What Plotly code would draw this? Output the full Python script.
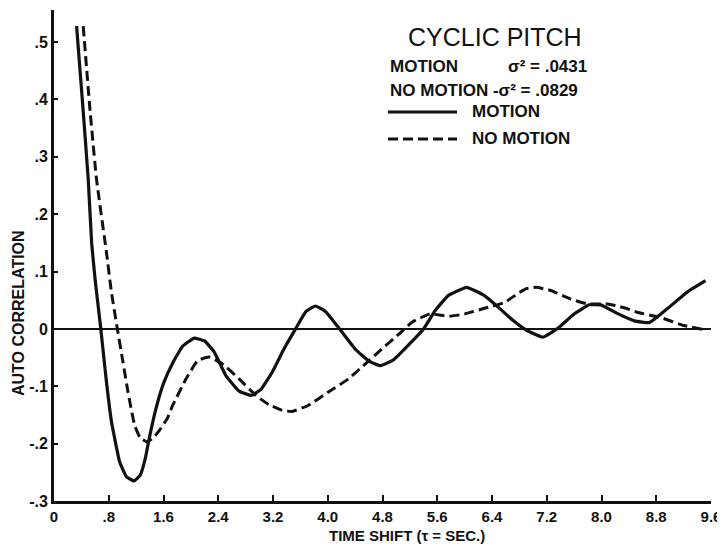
import plotly.graph_objects as go

# ---- data ----
motion_t = [0.33, 0.42, 0.50, 0.55, 0.60, 0.684, 0.767, 0.84, 0.96, 1.06, 1.17, 1.26, 1.33, 1.40,
            1.49, 1.60, 1.74, 1.88, 2.05, 2.20, 2.34, 2.51, 2.70, 2.88, 3.02, 3.19, 3.36, 3.53,
            3.68, 3.82, 3.97, 4.14, 4.40, 4.60, 4.77, 4.96, 5.18, 5.40, 5.57, 5.76, 6.03, 6.29,
            6.49, 6.71, 6.90, 7.14, 7.30, 7.41, 7.60, 7.82, 7.99, 8.23, 8.48, 8.70, 8.96, 9.25, 9.52]
motion_r = [0.528, 0.39, 0.261, 0.15, 0.087, 0.0, -0.093, -0.162, -0.232, -0.258, -0.265, -0.255,
            -0.228, -0.186, -0.139, -0.095, -0.058, -0.030, -0.016, -0.021, -0.040, -0.081, -0.108,
            -0.116, -0.106, -0.075, -0.035, 0.0, 0.030, 0.040, 0.030, 0.005, -0.035, -0.056, -0.064,
            -0.054, -0.028, 0.0, 0.032, 0.058, 0.0725, 0.058, 0.038, 0.0145, -0.002, -0.0145, -0.004,
            0.006, 0.026, 0.042, 0.042, 0.027, 0.014, 0.011, 0.035, 0.064, 0.084]

nomotion_t = [0.427, 0.52, 0.621, 0.767, 0.839, 0.926, 1.008, 1.081, 1.178, 1.26, 1.36, 1.45, 1.54,
              1.66, 1.735, 1.93, 2.10, 2.27, 2.46, 2.705, 2.95, 3.14, 3.335, 3.48, 3.72, 4.01, 4.305,
              4.55, 4.79, 5.03, 5.23, 5.49, 5.76, 6.00, 6.29, 6.585, 6.78, 6.90, 7.045, 7.26, 7.55,
              7.80, 8.09, 8.23, 8.38, 8.52, 8.86, 9.2, 9.49]
nomotion_r = [0.528, 0.39, 0.261, 0.133, 0.064, 0.0, -0.058, -0.11, -0.168, -0.19, -0.197, -0.19,
              -0.177, -0.155, -0.133, -0.087, -0.055, -0.049, -0.061, -0.087, -0.116, -0.132, -0.142,
              -0.144, -0.133, -0.11, -0.087, -0.061, -0.035, -0.010, 0.0116, 0.026, 0.022, 0.026,
              0.036, 0.046, 0.062, 0.070, 0.0725, 0.067, 0.052, 0.0435, 0.0435, 0.040, 0.035, 0.029,
              0.020, 0.006, -0.001]

x_ticks = [0, 0.8, 1.6, 2.4, 3.2, 4.0, 4.8, 5.6, 6.4, 7.2, 8.0, 8.8, 9.6]
x_ticktext = ["0", ".8", "1.6", "2.4", "3.2", "4.0", "4.8", "5.6", "6.4", "7.2", "8.0", "8.8", "9.6"]
y_ticks = [-0.3, -0.2, -0.1, 0, 0.1, 0.2, 0.3, 0.4, 0.5]
y_ticktext = ["-.3", "-.2", "-.1", "0", ".1", ".2", ".3", ".4", ".5"]

FONT = "Liberation Sans"
INK = "#111111"

fig = go.Figure()
fig.add_trace(go.Scatter(x=motion_t, y=motion_r, mode="lines", name="MOTION",
                         line=dict(color=INK, width=3.2, shape="spline", smoothing=0.35)))
fig.add_trace(go.Scatter(x=nomotion_t, y=nomotion_r, mode="lines", name="NO MOTION",
                         line=dict(color=INK, width=3, dash="10px,5px", shape="spline", smoothing=0.35)))

# the page body has an 8px margin, so the figure is offset by (8, 8) in the window
fig.update_layout(
    width=725, height=547,
    margin=dict(l=46, r=22, t=2, b=54, autoexpand=False),
    paper_bgcolor="white", plot_bgcolor="white",
    showlegend=False,
    font=dict(family=FONT, color=INK),
)
fig.update_xaxes(range=[0, 9.6], tickvals=x_ticks, ticktext=x_ticktext, automargin=False,
                 showgrid=False, zeroline=False, showline=True, linecolor=INK, linewidth=3,
                 ticks="inside", ticklen=6, tickwidth=2, tickcolor=INK,
                 tickfont=dict(family=FONT, size=15, weight="bold", color=INK))
fig.update_yaxes(range=[-0.3, 0.556], tickvals=y_ticks, ticktext=y_ticktext, automargin=False,
                 showgrid=False, zeroline=True, zerolinecolor=INK, zerolinewidth=2,
                 showline=True, linecolor=INK, linewidth=3,
                 ticks="inside", ticklen=4, tickwidth=2, tickcolor=INK,
                 tickfont=dict(family=FONT, size=16, weight="bold", color=INK))

def px2paper(px, py):
    # window pixel -> paper coords (plot area spans 54..711 x, 10..501 y in the window)
    return (px - 54) / 657.0, (501 - py) / 491.0

def note(text, px, py, size, anchor="left", weight="bold", angle=0):
    x, y = px2paper(px, py)
    fig.add_annotation(text=text, x=x, y=y, xref="paper", yref="paper", showarrow=False,
                       xanchor=anchor, yanchor="middle", textangle=angle,
                       font=dict(family=FONT, size=size, weight=weight, color=INK))

note("CYCLIC PITCH", 495, 37, 25, anchor="center", weight="normal")
note("MOTION", 388, 67, 17)
note("σ² = .0431", 506, 67, 17)
note("NO MOTION -σ² = .0829", 388, 91, 17)
note("MOTION", 470, 112, 17)
note("NO MOTION", 470, 139, 17)
note("TIME SHIFT (τ = SEC.)", 407, 535, 15, anchor="center")
note("AUTO CORRELATION", 18, 313, 16, anchor="center", angle=-90)

# legend sample lines
for py, dash in [(112, "solid"), (139, "10px,5px")]:
    x0, y0 = px2paper(388, py)
    x1, _ = px2paper(457, py)
    fig.add_shape(type="line", xref="paper", yref="paper", x0=x0, x1=x1, y0=y0, y1=y0,
                  line=dict(color=INK, width=3, dash=dash))

fig.write_html("out.html")
